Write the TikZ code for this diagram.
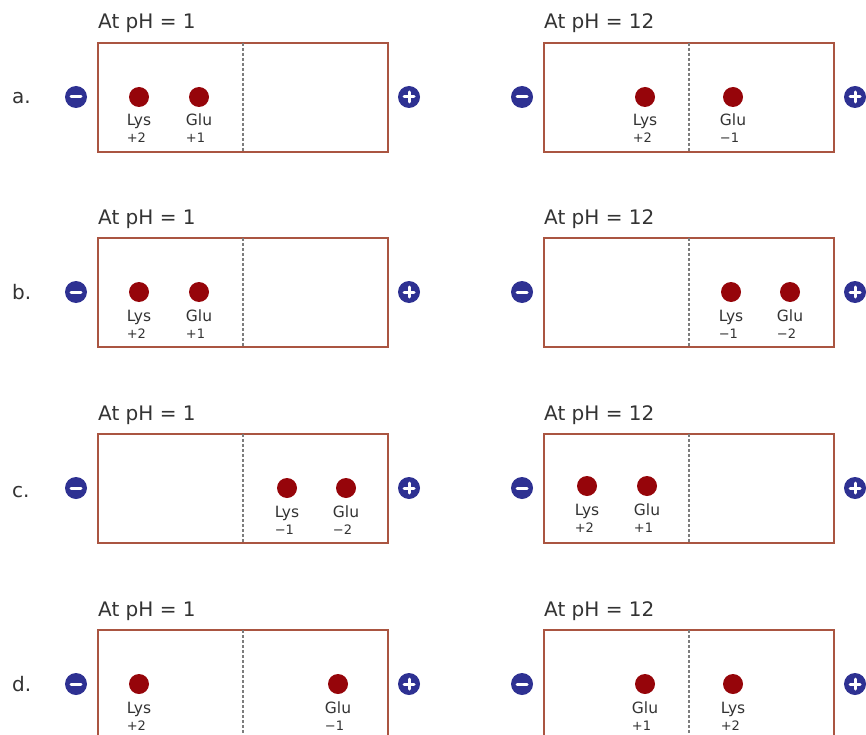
\documentclass[tikz,border=0pt]{standalone}
\usepackage{fontspec}
\setmainfont{DejaVu Sans}
\definecolor{ink}{RGB}{51,51,51}
\definecolor{navy}{RGB}{46,49,146}
\definecolor{spotred}{RGB}{150,5,10}
\definecolor{frame}{RGB}{170,85,65}
\definecolor{well}{RGB}{125,125,125}
\tikzset{
  gelframe/.style={draw=frame, line width=2pt},
  wellline/.style={draw=well, line width=1.6pt, dash pattern=on 3pt off 2pt},
  elec/.style={circle, fill=navy, minimum size=22pt, inner sep=0pt},
  cathode/.style={elec, path picture={\draw[white, line width=3pt, line cap=round]
     ([xshift=-5pt]path picture bounding box.center) -- ([xshift=5pt]path picture bounding box.center);}},
  anode/.style={elec, path picture={\draw[white, line width=3pt, line cap=round]
     ([xshift=-5pt]path picture bounding box.center) -- ([xshift=5pt]path picture bounding box.center)
     ([yshift=-5pt]path picture bounding box.center) -- ([yshift=5pt]path picture bounding box.center);}},
  spotdot/.style={circle, fill=spotred, minimum size=20pt, inner sep=0pt},
  titletext/.style={text=ink, inner sep=0pt, font=\fontsize{20}{22}\selectfont},
  rowlbl/.style={text=ink, inner sep=0pt, font=\fontsize{20}{22}\selectfont},
  lbl/.style={text=ink, inner sep=0pt, font=\fontsize{15.5}{18}\selectfont},
  chg/.style={text=ink, inner sep=0pt, font=\fontsize{13}{15}\selectfont},
}
\newcommand\gelbox[4]{% prefix, left x, row y, title
  \draw[gelframe] (#2,#3-54) rectangle (#2+290,#3+55);
  \draw[wellline] (#2+145,#3-54) -- (#2+145,#3+55);
  \node[cathode] (#1m) at (#2-22,#3) {};
  \node[anode] (#1p) at (#2+311,#3) {};
  \node[titletext, anchor=base west] (#1t) at (#2,#3-68) {#4};
}
\newcommand\spot[5]{% name, x, y, label, charge
  \node[spotdot] (#1) at (#2,#3) {};
  \node[lbl, anchor=base] (#1n) at (#2,#3+29) {#4};
  \path (#1n.base west) ++(0,17) node[chg, anchor=base west] (#1c) {#5};
}
\begin{document}
\begin{tikzpicture}[x=1pt,y=-1pt]
\clip (0,0) rectangle (866,735);
\fill[white] (0,0) rectangle (866,735);
% row labels
\node[rowlbl, anchor=base west] (ra) at (12,104) {a.};
\node[rowlbl, anchor=base west] (rb) at (12,299) {b.};
\node[rowlbl, anchor=base west] (rc) at (12,497) {c.};
\node[rowlbl, anchor=base west] (rd) at (12,691) {d.};
% row a
\gelbox{aL}{98}{97}{At pH = 1}
\gelbox{aR}{544}{97}{At pH = 12}
\spot{aL1}{139}{97}{Lys}{+2}
\spot{aL2}{199}{97}{Glu}{+1}
\spot{aR1}{645}{97}{Lys}{+2}
\spot{aR2}{733}{97}{Glu}{−1}
% row b
\gelbox{bL}{98}{292}{At pH = 1}
\gelbox{bR}{544}{292}{At pH = 12}
\spot{bL1}{139}{292}{Lys}{+2}
\spot{bL2}{199}{292}{Glu}{+1}
\spot{bR1}{731}{292}{Lys}{−1}
\spot{bR2}{790}{292}{Glu}{−2}
% row c
\gelbox{cL}{98}{488}{At pH = 1}
\gelbox{cR}{544}{488}{At pH = 12}
\spot{cL1}{287}{488}{Lys}{−1}
\spot{cL2}{346}{488}{Glu}{−2}
\spot{cR1}{587}{486}{Lys}{+2}
\spot{cR2}{647}{486}{Glu}{+1}
% row d
\gelbox{dL}{98}{684}{At pH = 1}
\gelbox{dR}{544}{684}{At pH = 12}
\spot{dL1}{139}{684}{Lys}{+2}
\spot{dL2}{338}{684}{Glu}{−1}
\spot{dR1}{645}{684}{Glu}{+1}
\spot{dR2}{733}{684}{Lys}{+2}
\end{tikzpicture}
\end{document}
